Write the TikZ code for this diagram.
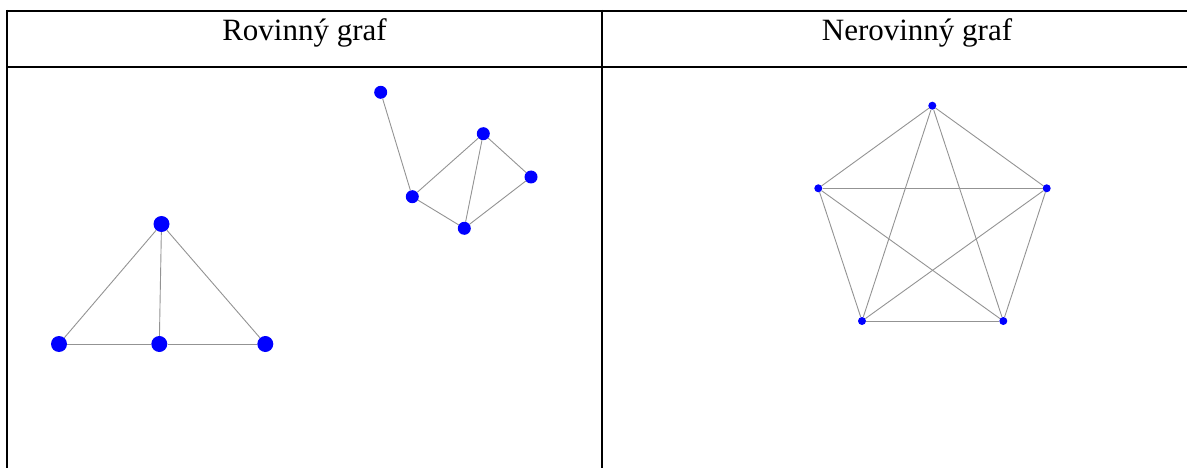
\documentclass[tikz,border=0pt]{standalone}
\usepackage{fontspec}
\setmainfont{Liberation Serif}
\begin{document}
\begin{tikzpicture}[x=1pt,y=-1pt,
  frame/.style={line width=2pt,black},
  vbig/.style={circle,fill=blue,inner sep=0pt,minimum size=16pt},
  vmid/.style={circle,fill=blue,inner sep=0pt,minimum size=13pt},
  vsmall/.style={circle,fill=blue,inner sep=0pt,minimum size=8pt},
  edge/.style={draw=gray!85,line width=0.9pt},
  head/.style={font=\fontsize{31}{36}\selectfont,anchor=base}]
\useasboundingbox (0,0) rectangle (1187,468);
% table frame
\draw[frame] (7.3,11) -- (1190,11);
\draw[frame] (7.3,66.7) -- (1190,66.7);
\draw[frame] (7.3,10) -- (7.3,470);
\draw[frame] (602,10) -- (602,470);
\node[head] (h1) at (304.5,41) {Rovinný graf};
\node[head] (h2) at (917,41) {Nerovinný graf};
% planar graph 1
\node[vbig] (t) at (161.5,224) {};
\node[vbig] (bl) at (59,344) {};
\node[vbig] (bm) at (159.3,344) {};
\node[vbig] (br) at (265.3,344) {};
\draw[edge] (t) -- (bl);
\draw[edge] (t) -- (bm);
\draw[edge] (t) -- (br);
\draw[edge] (bl) -- (bm);
\draw[edge] (bm) -- (br);
% planar graph 2
\node[vmid] (a) at (380.7,92.3) {};
\node[vmid] (b) at (483.3,133.7) {};
\node[vmid] (c) at (531,177) {};
\node[vmid] (d) at (412.3,196.7) {};
\node[vmid] (e) at (464.3,228.3) {};
\draw[edge] (a) -- (d);
\draw[edge] (d) -- (b);
\draw[edge] (b) -- (c);
\draw[edge] (c) -- (e);
\draw[edge] (e) -- (d);
\draw[edge] (b) -- (e);
% K5
\node[vsmall] (p1) at (932.3,105.7) {};
\node[vsmall] (p2) at (1046.7,188.3) {};
\node[vsmall] (p3) at (1003.3,321) {};
\node[vsmall] (p4) at (862,321) {};
\node[vsmall] (p5) at (818.3,188.3) {};
\foreach \u/\v in {p1/p2,p1/p3,p1/p4,p1/p5,p2/p3,p2/p4,p2/p5,p3/p4,p3/p5,p4/p5}
  \draw[edge] (\u) -- (\v);
\end{tikzpicture}
\end{document}
